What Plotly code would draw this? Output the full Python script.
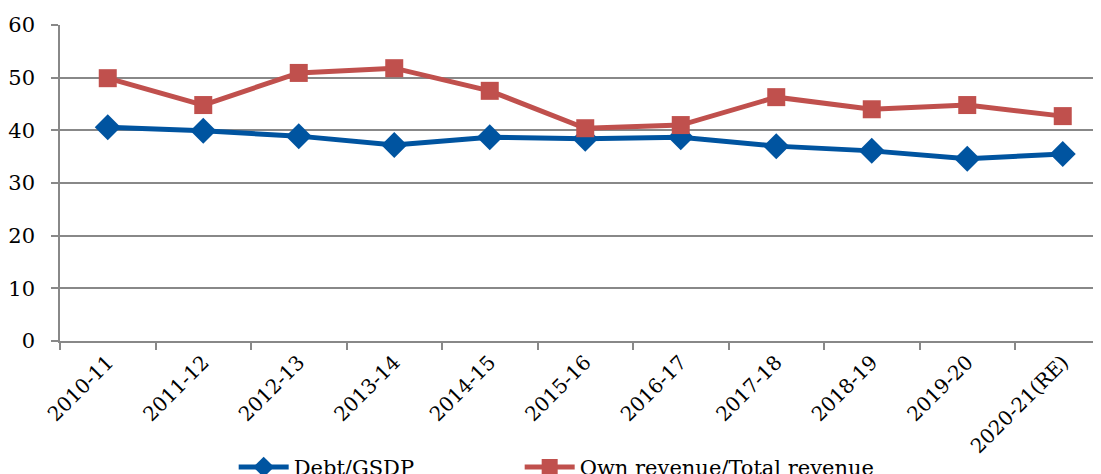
import plotly.graph_objects as go

# Datos
anios = ["2010-11", "2011-12", "2012-13", "2013-14", "2014-15", "2015-16",
         "2016-17", "2017-18", "2018-19", "2019-20", "2020-21(RE)"]
deuda_gsdp = [40.6, 39.9, 38.9, 37.2, 38.7, 38.4, 38.7, 37.0, 36.1, 34.6, 35.5]
ingreso_propio = [49.9, 44.8, 50.9, 51.8, 47.5, 40.4, 41.0, 46.3, 44.0, 44.8, 42.7]

fuente = "DejaVu Serif"

fig = go.Figure()

fig.add_trace(go.Scatter(
    x=anios, y=deuda_gsdp, name="Debt/GSDP",
    mode="lines+markers",
    line=dict(color="#0054A0", width=5),
    marker=dict(symbol="diamond", size=20, color="#0054A0"),
    legend="legend",
))

fig.add_trace(go.Scatter(
    x=anios, y=ingreso_propio, name="Own revenue/Total revenue",
    mode="lines+markers",
    line=dict(color="#C0504D", width=5),
    marker=dict(symbol="square", size=18, color="#C0504D"),
    legend="legend2",
))

# la pagina tiene un margen de 8px, se compensa aqui
fig.update_layout(
    width=1093,
    height=466,
    margin=dict(l=52, r=1, t=17, b=133, autoexpand=False),
    plot_bgcolor="white",
    paper_bgcolor="white",
    font=dict(family=fuente, size=20, color="black"),
    showlegend=True,
    legend=dict(
        orientation="h",
        x=0.167, xanchor="left",
        y=-0.40, yanchor="middle",
        font=dict(family=fuente, size=21),
        itemwidth=50,
    ),
    legend2=dict(
        orientation="h",
        x=0.442, xanchor="left",
        y=-0.40, yanchor="middle",
        font=dict(family=fuente, size=21),
        itemwidth=50,
    ),
)

fig.update_xaxes(
    type="category",
    range=[-0.5, 10.39],
    tickangle=-45,
    tickson="boundaries",
    ticks="outside", ticklen=7, tickcolor="#888888", tickwidth=1.5,
    showline=True, linecolor="#888888", linewidth=1.5,
    showgrid=False,
    tickfont=dict(family=fuente, size=20),
)

fig.update_yaxes(
    range=[0, 60],
    dtick=10,
    ticks="outside", ticklen=7, tickcolor="#888888", tickwidth=1.5,
    showline=True, linecolor="#888888", linewidth=1.5,
    showgrid=True, gridcolor="#888888", gridwidth=1.5,
    zeroline=False,
    ticklabelstandoff=12,
    tickfont=dict(family=fuente, size=21),
)

fig.write_html("out.html")
